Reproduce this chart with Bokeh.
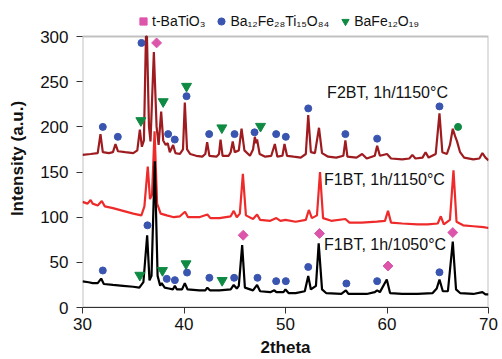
import math
from bokeh.plotting import figure
from bokeh.models import Legend, LegendItem, Range1d, BoxAnnotation
from bokeh.core.properties import value
from bokeh.embed import file_html
from bokeh.resources import INLINE

# ---------------- data ----------------
f2bt_x = [30.0, 30.8, 31.5, 31.77, 32.0, 32.6, 33.0, 33.25, 33.5, 34.2, 35.0, 35.4, 35.65, 35.85,
          36.05, 36.25, 36.35, 36.55, 36.7, 37.03, 37.3, 37.5, 37.75, 37.95, 38.2, 38.4, 38.6, 38.93, 39.15,
          39.6, 39.9, 40.08, 40.3, 40.6, 41.2, 41.8, 42.1, 42.28, 42.5, 43.2, 43.45, 43.6, 43.8,
          44.4, 44.6, 44.8, 45.0, 45.4, 45.67, 45.95, 46.5, 46.8, 46.98, 47.1, 47.2, 47.45, 48.0,
          48.6, 48.95, 49.2, 49.7, 49.9, 50.15, 50.8, 51.5, 52.0, 52.24, 52.5, 52.9, 53.3, 53.6,
          54.2, 55.0, 55.7, 55.9, 56.1, 57.0, 57.55, 58.0, 58.8, 59.03, 59.3, 60.0, 60.4, 61.5,
          62.2, 62.5, 62.8, 63.5, 63.8, 64.1, 64.8, 65.17, 65.45, 65.9, 66.2, 66.48, 66.7, 66.9,
          67.2, 67.6, 68.5, 69.1, 69.4, 69.7, 70.0]
f2bt_y = [169, 170, 171, 192, 172, 171, 172, 181, 173, 172, 171, 174, 197, 178,
          185, 300, 300, 200, 184, 283, 200, 180, 217, 185, 180, 182, 172, 180, 171,
          170, 175, 227, 175, 170, 168, 167, 170, 183, 168, 167, 170, 186, 168,
          168, 172, 184, 172, 174, 198, 174, 168, 175, 189, 182, 186, 170, 167,
          168, 181, 167, 168, 181, 168, 167, 166, 170, 213, 172, 171, 199, 171,
          167, 166, 168, 185, 167, 166, 170, 165, 168, 179, 168, 170, 165, 164,
          165, 169, 165, 166, 172, 166, 170, 215, 172, 170, 180, 198, 190, 184,
          172, 166, 164, 165, 171, 166, 163]

f1bt1150_x = [30.0, 30.5, 30.8, 31.0, 31.5, 31.9, 32.2, 33.0, 34.0, 35.0, 35.8, 36.1, 36.43, 36.65,
              36.85, 37.1, 37.35, 37.7, 38.3, 39.0, 39.6, 40.1, 40.4, 41.5, 42.3, 42.6, 43.5, 44.6,
              44.9, 45.2, 45.5, 45.8, 46.1, 46.8, 47.2, 47.5, 48.5, 49.1, 49.5, 50.0, 51.0, 52.0,
              52.3, 52.6, 53.1, 53.4, 53.7, 54.5, 55.9, 56.3, 57.5, 59.0, 59.8, 60.1, 60.4, 61.5,
              63.0, 64.0, 65.0, 65.3, 65.6, 66.2, 66.55, 66.85, 67.5, 68.5, 69.5, 70.0]
f1bt1150_y = [117, 115, 119, 115, 113, 118, 112, 110, 107, 104, 102, 112, 156, 120,
              125, 195, 115, 104, 102, 100, 101, 106, 100, 100, 103, 99, 99, 101,
              107, 100, 104, 148, 102, 98, 103, 97, 96, 99, 96, 97, 95, 97,
              108, 99, 102, 150, 99, 96, 98, 94, 94, 95, 96, 107, 94, 93,
              92, 92, 93, 101, 92, 97, 152, 95, 91, 90, 89, 88]

f1bt1050_x = [30.0, 30.6, 31.0, 31.5, 31.84, 32.1, 33.0, 34.0, 35.0, 35.6, 36.0, 36.37, 36.6, 36.8,
              37.12, 37.4, 37.65, 37.8, 38.1, 38.5, 38.9, 39.1, 39.3, 39.8, 40.08, 40.35, 41.5, 42.1,
              42.3, 42.55, 43.5, 44.6, 44.9, 45.2, 45.4, 45.73, 46.0, 46.8, 47.2, 47.5, 48.5, 48.9,
              49.1, 49.8, 50.0, 50.3, 51.0, 51.9, 52.24, 52.5, 53.0, 53.27, 53.6, 54.0, 55.5, 55.95,
              56.2, 57.0, 58.0, 58.8, 59.03, 59.3, 59.98, 60.3, 61.5, 63.0, 64.5, 64.9, 65.17, 65.5,
              66.0, 66.48, 66.8, 67.2, 68.5, 69.4, 69.7, 70.0]
f1bt1050_y = [29, 28, 27, 27, 32, 26, 25, 24, 23, 22, 28, 80, 30, 35,
              162, 35, 24, 27, 22, 21, 20, 24, 20, 20, 27, 20, 19, 19,
              22, 19, 19, 20, 25, 21, 24, 69, 22, 19, 25, 18, 17, 19,
              17, 17, 20, 16, 16, 18, 35, 20, 24, 71, 20, 16, 15, 19,
              15, 15, 15, 17, 19, 17, 31, 16, 15, 15, 16, 21, 31, 18,
              18, 73, 20, 16, 15, 17, 14.5, 14.5]

# phase markers
batio3_x = [37.3, 45.83, 53.35, 60.1, 66.48]
batio3_y = [293, 80, 82, 46, 83]

m_phase_x = [32.0, 33.48, 35.81, 38.44, 39.09, 40.25, 42.48, 44.98, 46.95, 49.08, 50.03, 52.24,
             55.9, 59.03, 65.17,
             32.0, 36.4, 38.3, 39.1, 40.3, 42.5, 44.94, 47.24, 49.08, 50.03, 52.24, 56.0, 59.03, 65.17]
m_phase_y = [200, 189, 293, 192, 186, 234, 192, 192, 194, 192, 189, 220.5,
             192, 187, 222.7,
             41, 91, 31.7, 30.3, 38.7, 32.9, 32.9, 32.9, 29.2, 29.2, 44.9, 26.6, 29.2, 39]

hex_x = [35.75, 37.95, 40.25, 43.73, 47.54, 35.65, 37.88, 40.2, 43.76]
hex_y = [207, 228, 245, 199, 200.7, 35.8, 41, 48.5, 30]

extra_x = [67.0]
extra_y = [200]

label_x = [54.1, 53.8, 53.8]
label_y = [238, 141.6, 69.3]
label_text = ["F2BT, 1h/1150°C", "F1BT, 1h/1150°C", "F1BT, 1h/1050°C"]

legend_labels = ["t-BaTiO₃", "Ba₁₂Fe₂₈Ti₁₅O₈₄", "BaFe₁₂O₁₉"]

x_ticks = [30, 40, 50, 60, 70]
y_ticks = [0, 50, 100, 150, 200, 250, 300]
x_lo, x_hi, y_lo, y_hi = 30, 70, 0, 300

# ---------------- figure ----------------
FONT = "Liberation Sans"
p = figure(width=502, height=359, x_range=Range1d(x_lo, x_hi), y_range=Range1d(y_lo, 330),
           output_backend="svg", toolbar_location=None,
           min_border_left=82, min_border_right=14, min_border_top=9, min_border_bottom=10)
p.background_fill_color = "white"
p.border_fill_color = "white"
p.outline_line_color = None
p.grid.visible = False

for ax in (p.xaxis[0], p.yaxis[0]):
    ax.axis_line_color = "#333333"
    ax.major_tick_line_color = "#333333"
    ax.minor_tick_line_color = None
    ax.major_tick_in = 0
    ax.major_tick_out = 6
    ax.major_label_text_font = FONT
    ax.major_label_text_font_size = "17px"
    ax.major_label_text_color = "#111111"
    ax.axis_label_text_font = FONT
    ax.axis_label_text_font_size = "17px"
    ax.axis_label_text_font_style = "bold"
    ax.axis_label_text_color = "#111111"

p.yaxis.axis_line_color = None
p.xaxis.ticker = x_ticks
p.yaxis.ticker = y_ticks
p.xaxis.axis_label = "2theta"
p.yaxis.axis_label = "Intensity (a.u.)"
p.xaxis.major_label_standoff = 4
p.xaxis.axis_label_standoff = 5
p.yaxis.major_label_standoff = 8
p.yaxis.axis_label_standoff = 10

# plot box (frame of the 30-70 x 0-300 area)
p.add_layout(BoxAnnotation(left=x_lo, right=x_hi, bottom=y_lo, top=y_hi,
                           fill_alpha=0, line_color="#333333", line_width=2))

p.line(f2bt_x, f2bt_y, line_color="#9E1C20", line_width=2.2)
p.line(f1bt1150_x, f1bt1150_y, line_color="#EE2A2A", line_width=2.2)
p.line(f1bt1050_x, f1bt1050_y, line_color="#000000", line_width=2.2)

r_pink = p.scatter(batio3_x, batio3_y, marker="square", angle=math.pi / 4, size=7,
                   fill_color="#DD55AA", line_color="#DD55AA")
r_blue = p.scatter(m_phase_x, m_phase_y, marker="circle", size=7,
                   fill_color="#3A55B0", line_color="#3A55B0")
r_green = p.scatter(hex_x, hex_y, marker="inverted_triangle", size=10,
                    fill_color="#0E8A43", line_color="#0E8A43")
p.scatter(extra_x, extra_y, marker="circle", size=7, fill_color="#0E8A43", line_color="#0E8A43")

p.text(x=label_x, y=label_y, text=label_text, text_font=value(FONT), text_font_size="16px",
       text_color="#111111", text_baseline="alphabetic", text_align="left")

legend = Legend(items=[LegendItem(label=legend_labels[0], renderers=[r_pink]),
                       LegendItem(label=legend_labels[1], renderers=[r_blue]),
                       LegendItem(label=legend_labels[2], renderers=[r_green])],
                orientation="horizontal", location=(52, 277),
                label_text_font=FONT, label_text_font_size="14px", label_text_color="#111111",
                glyph_width=18, glyph_height=18, label_height=18, label_standoff=0,
                spacing=7, padding=2, margin=0,
                border_line_color=None, background_fill_alpha=0)
p.add_layout(legend, "center")

open("out.html", "w").write(file_html(p, INLINE))
